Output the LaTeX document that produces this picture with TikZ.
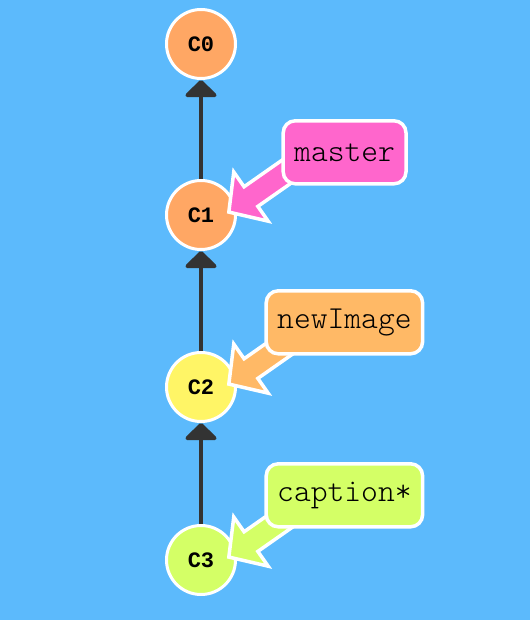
\documentclass[tikz,border=0pt]{standalone}
\usepackage{fontspec}
\setmonofont{Liberation Mono}
\newfontfamily\labelfont{Latin Modern Mono Light}
\usetikzlibrary{positioning,calc,arrows.meta}
\definecolor{bgblue}{HTML}{5CBAFC}
\definecolor{commitorange}{HTML}{FFA764}
\definecolor{commityellow}{HTML}{FFF566}
\definecolor{commitlime}{HTML}{D4FF66}
\definecolor{masterpink}{HTML}{FF66CC}
\definecolor{imageorange}{HTML}{FFB966}
\definecolor{edgegray}{HTML}{333333}
\tikzset{commit/.style={circle,draw=white,line width=3pt,minimum size=69pt,inner sep=0pt,font=\ttfamily\bfseries\fontsize{22}{22}\selectfont},
branch/.style={rounded corners=12pt,draw=white,line width=3.5pt,inner xsep=11pt,minimum height=63pt,font=\labelfont\fontsize{32}{32}\selectfont},
parent/.style={draw=edgegray,line width=4pt,-{Triangle[width=36pt,length=18pt,round]}},
ptr/.style={draw=white,line width=3.5pt,miter limit=10},}
\newcommand{\branchptr}[2]{\draw[ptr,fill=#2,shift={($(#1)+(6:28pt)$)},rotate=35] (0,0) -- (27pt,30pt) -- (27pt,12pt) -- (80pt,12pt) -- (80pt,-12pt) -- (27pt,-12pt) -- (27pt,-30pt) -- cycle;}

\begin{document}
\begin{tikzpicture}
        \fill[bgblue,use as bounding box] (-201pt,44pt) rectangle (329pt,-576pt);

        \node[commit,fill=commitorange] (c0) {C0};
        \node[commit,fill=commitorange] (c1) [below=99pt of c0] {C1};
        \node[commit,fill=commityellow] (c2) [below=100pt of c1] {C2};
        \node[commit,fill=commitlime] (c3) [below=101pt of c2] {C3};

        \draw[parent] (c1) -- (c0);
        \draw[parent] (c2) -- (c1);
        \draw[parent] (c3) -- (c2);

        \branchptr{c1}{masterpink}
        \branchptr{c2}{imageorange}
        \branchptr{c3}{commitlime}

        \node[branch,fill=masterpink] (master) [above right=4pt and 55pt of c1] {master};
        \node[branch,fill=imageorange] (newImage) [above right=6pt and 38pt of c2] {newImage};
        \node[branch,fill=commitlime] (caption) [above right=6pt and 38pt of c3] {caption*};
    \end{tikzpicture}
\end{document}
